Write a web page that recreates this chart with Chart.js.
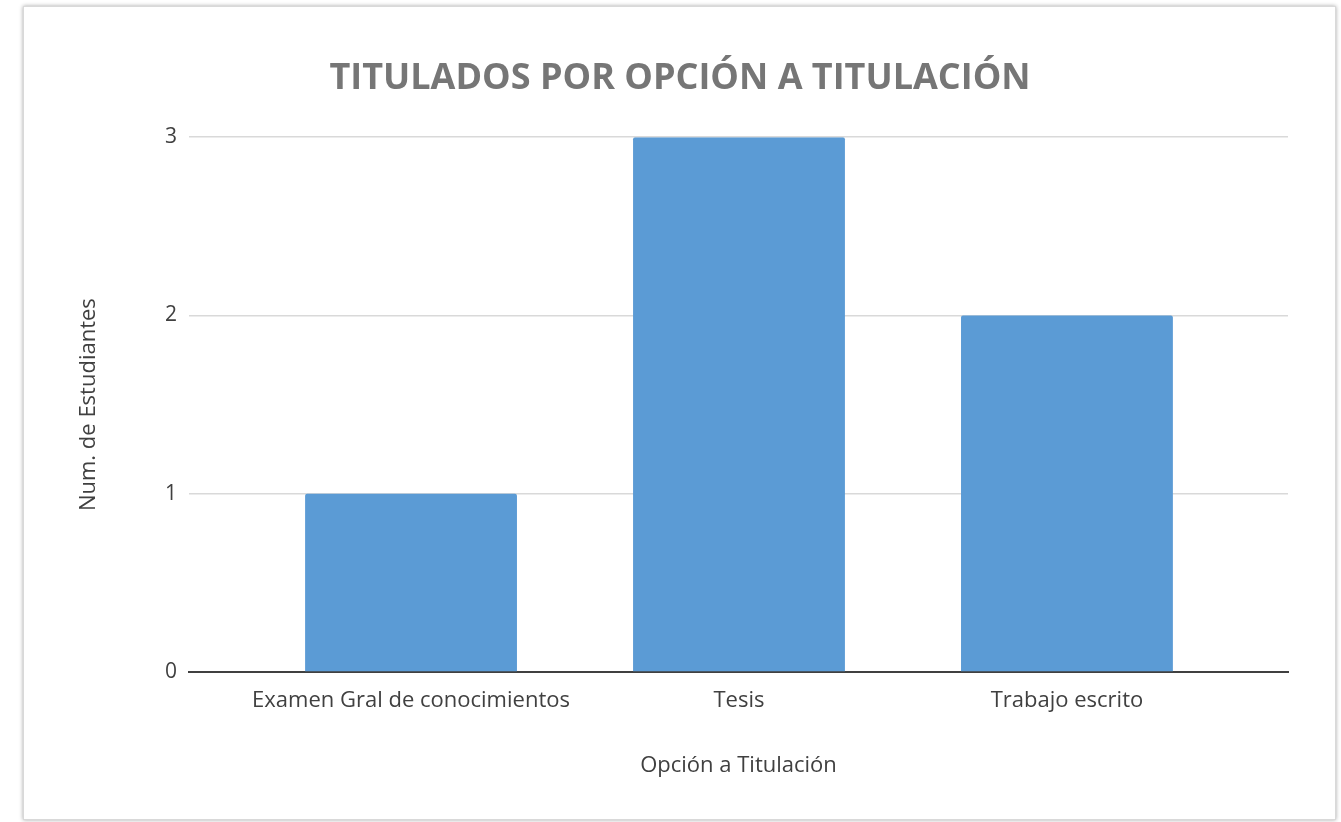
<!DOCTYPE html>
<html>
<head>
<meta charset="utf-8">
<script src="https://cdn.jsdelivr.net/npm/chart.js@4.4.1/dist/chart.umd.min.js"></script>
<style>
  body { margin: 0; background: #fff; }
  #card {
    position: absolute; left: 23px; top: 6px; width: 1311px; height: 812px;
    border: 1px solid #d9d9d9; background: #fff;
    box-shadow: 0 0 4px rgba(0,0,0,0.35);
  }
</style>
</head>
<body>
<div id="card"><canvas id="titulados-chart" width="1311" height="812"></canvas></div>
<script>
const categories = ['Examen Gral de conocimientos', 'Tesis', 'Trabajo escrito'];
const estudiantes = [1, 3, 2];
const yTicks = [0, 1, 2, 3];

const ctx = document.getElementById('titulados-chart');
const font = "'Open Sans', 'Noto Sans', sans-serif";

new Chart(ctx, {
    type: 'bar',
    data: {
        datasets: [{
            label: 'Num. de Estudiantes',
            data: categories.map((c, i) => ({ x: i, y: estudiantes[i] })),
            backgroundColor: '#5B9BD5',
            borderRadius: 2,
            categoryPercentage: 1,
            barPercentage: 0.646
        }]
    },
    options: {
        responsive: false,
        animation: false,
        layout: { padding: { left: 48, right: 47, top: 0, bottom: 39 } },
        plugins: {
            legend: { display: false },
            tooltip: { enabled: false },
            title: {
                display: true,
                text: 'TITULADOS POR OPCIÓN A TITULACIÓN',
                color: '#767676',
                font: { family: font, size: 36, weight: 'bold' },
                padding: { top: 50, bottom: 37 }
            }
        },
        scales: {
            x: {
                type: 'linear',
                offset: false,
                min: -0.677,
                max: 2.674,
                grid: { display: false },
                border: { display: true, color: '#404040', width: 2 },
                afterBuildTicks: function (scale) {
                    scale.ticks = categories.map((c, i) => ({ value: i }));
                },
                afterFit: function (scale) { scale.height = 108; },
                ticks: {
                    autoSkip: false,
                    maxRotation: 0,
                    padding: 8,
                    color: '#404040',
                    font: { family: font, size: 22 },
                    callback: function (value) { return categories[value]; }
                },
                title: {
                    display: true,
                    text: 'Opción a Titulación',
                    color: '#404040',
                    font: { family: font, size: 22 },
                    padding: { top: 4, bottom: 1 }
                }
            },
            y: {
                min: 0,
                max: 3,
                afterBuildTicks: function (scale) {
                    scale.ticks = yTicks.map(v => ({ value: v }));
                },
                afterFit: function (scale) { scale.width = 117; },
                grid: {
                    drawTicks: false,
                    color: c => c.tick && c.tick.value === 0 ? '#404040' : '#d9d9d9',
                    lineWidth: 1.5
                },
                border: { display: false },
                ticks: {
                    padding: 12,
                    color: '#404040',
                    font: { family: font, size: 21 }
                },
                title: {
                    display: true,
                    text: 'Num. de Estudiantes',
                    color: '#404040',
                    font: { family: font, size: 22 },
                    padding: { top: 4, bottom: 4 }
                }
            }
        }
    }
});
</script>
</body>
</html>
